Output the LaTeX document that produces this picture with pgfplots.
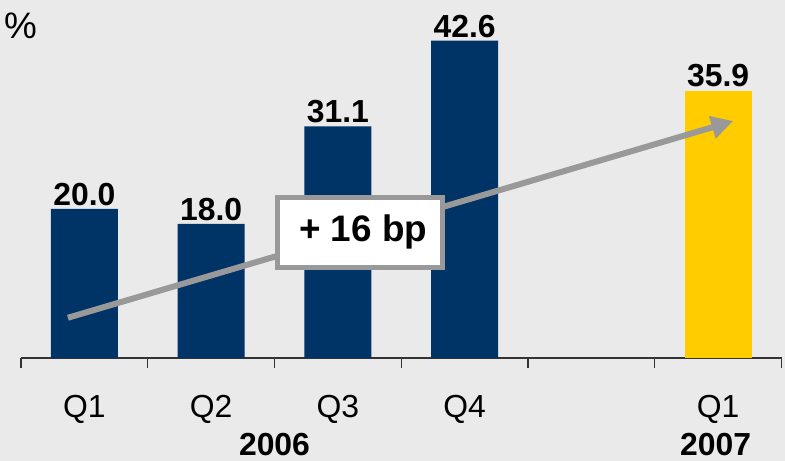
\documentclass[border=0pt]{standalone}
\usepackage{pgfplots}
\pgfplotsset{compat=1.18}
\usetikzlibrary{arrows.meta}
\usepackage{fontspec}
\setmainfont{Liberation Sans}
\definecolor{bg}{HTML}{EAEAEA}
\definecolor{navy}{HTML}{003366}
\definecolor{gold}{HTML}{FFCC00}
\definecolor{arr}{HTML}{999999}
\definecolor{axc}{HTML}{333333}
\begin{document}
\begin{tikzpicture}
\path[use as bounding box] (0,0) rectangle (785bp,461bp);
\fill[bg] (0,0) rectangle (785bp,461bp);
\node[anchor=north west, inner sep=0pt, font=\fontsize{37}{40}\selectfont] at (4bp,448bp) {\%};
\begin{axis}[
 at={(21bp,103bp)}, anchor=south west,
 scale only axis, width=760.5bp, height=357.6bp,
 xmin=-0.5, xmax=5.5, ymin=0, ymax=48,
 axis x line*=bottom, axis y line=none,
 axis line style={axc, line width=1.2bp},
 xtick={0,1,2,3,5}, xticklabels={Q1,Q2,Q3,Q4,Q1},
 minor xtick={-0.5,0.5,...,5.5},
 major tick length=0pt, minor tick length=10bp, tick align=outside,
 minor tick style={axc, line width=1.2bp},
 xticklabel style={anchor=base, yshift=-59bp, font=\fontsize{32}{36}\selectfont},
 ytick=\empty,
 clip=false,
 point meta=explicit symbolic,
 nodes near coords,
 nodes near coords style={font=\fontsize{32}{36}\selectfont\bfseries, anchor=south, inner sep=0pt, yshift=3bp, black},
]
\addplot[ybar, bar width=67bp, fill=navy, draw=none] coordinates {(0,20.0)[20.0] (1,18.0)[18.0] (2,31.1)[31.1] (3,42.6)[42.6]};
\addplot[ybar, bar width=67bp, fill=gold, draw=none] coordinates {(5,35.9)[35.9]};
\draw[arr, line width=6bp, -{Triangle[length=22bp, width=22bp]}] (axis cs:-0.13,5.4) -- (axis cs:5.12,31.8);
\node[draw=arr, line width=5bp, fill=white, minimum width=165bp, minimum height=70bp, inner sep=0pt, font=\fontsize{37}{40}\selectfont\bfseries] at (axis cs:2.175,16.85) {\hspace*{6bp}+ 16 bp};
\node[font=\fontsize{32}{36}\selectfont\bfseries, anchor=base, yshift=-97bp] at (axis cs:1.5,0) {2006};
\node[font=\fontsize{32}{36}\selectfont\bfseries, anchor=base, yshift=-97bp] at (axis cs:4.98,0) {2007};
\end{axis}
\end{tikzpicture}
\end{document}
